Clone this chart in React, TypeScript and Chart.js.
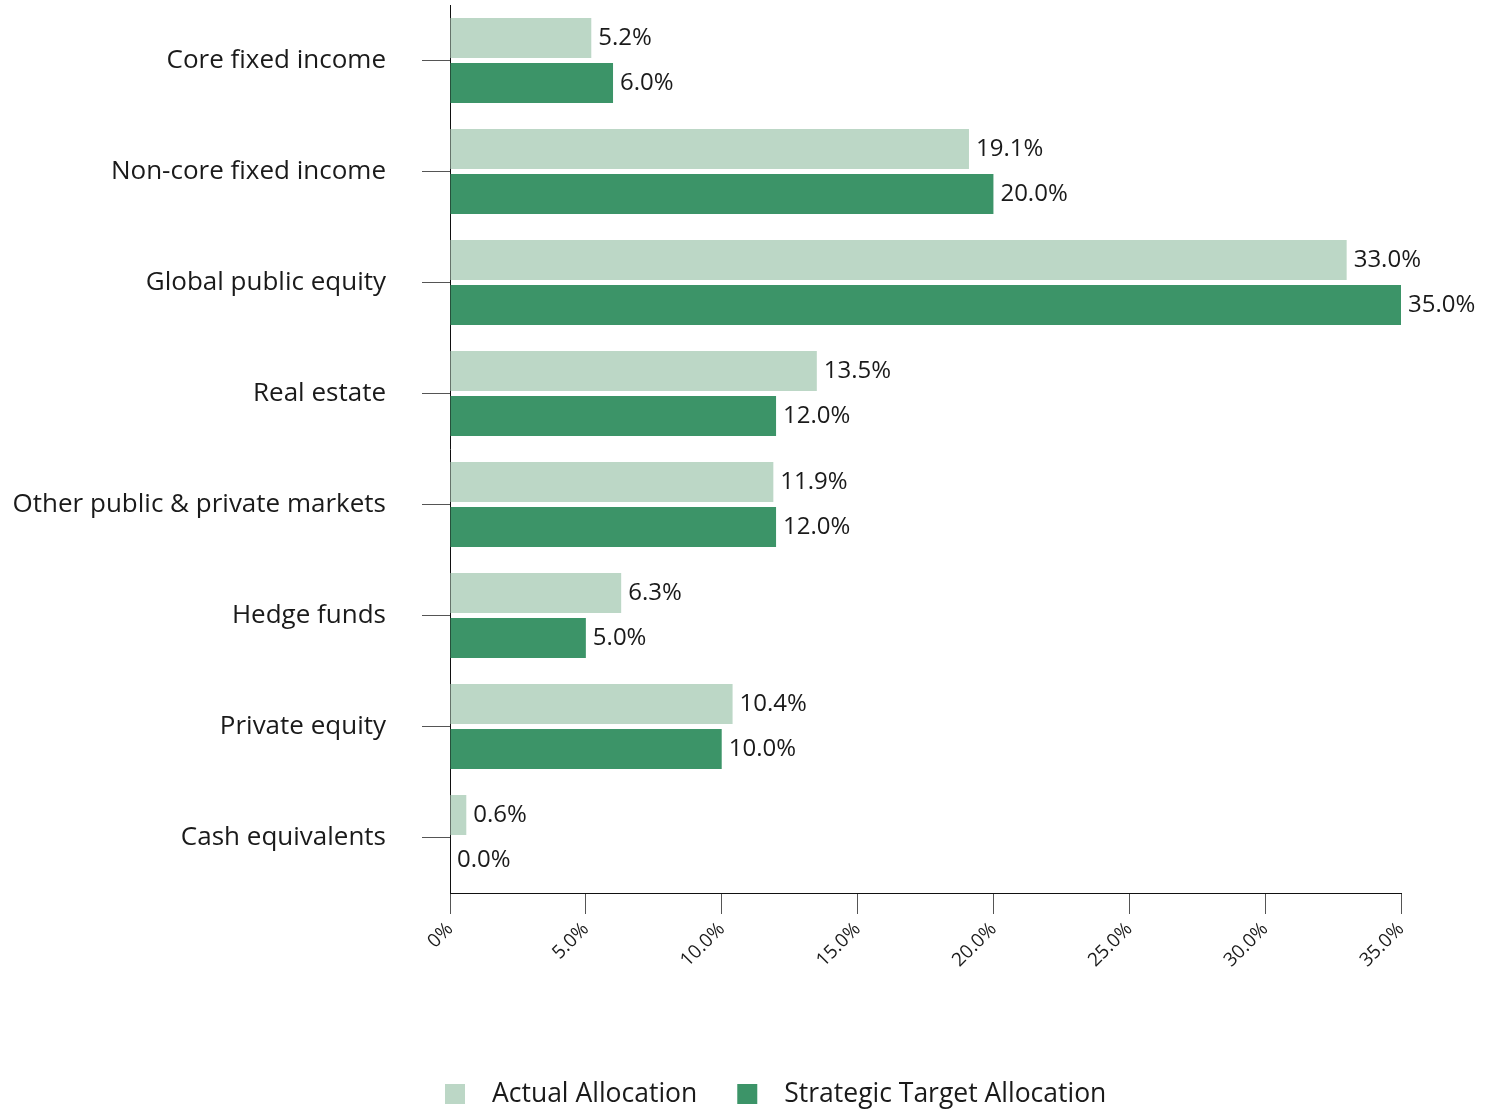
import React, { useEffect, useRef } from "react";
import { Chart, registerables } from "chart.js";

Chart.register(...registerables);

const categories = [
  "Core fixed income",
  "Non-core fixed income",
  "Global public equity",
  "Real estate",
  "Other public & private markets",
  "Hedge funds",
  "Private equity",
  "Cash equivalents",
];
const actualAllocation = [5.2, 19.1, 33.0, 13.5, 11.9, 6.3, 10.4, 0.6];
const targetAllocation = [6.0, 20.0, 35.0, 12.0, 12.0, 5.0, 10.0, 0.0];
const xTickValues = [0, 5, 10, 15, 20, 25, 30, 35];
const xTickLabels = ["0%", "5.0%", "10.0%", "15.0%", "20.0%", "25.0%", "30.0%", "35.0%"];
const seriesNames = ["Actual Allocation", "Strategic Target Allocation"];

const LIGHT = "#bcd7c6";
const DARK = "#3c9468";
const TEXT = "#1a1a1a";
const FONT = "'Open Sans', sans-serif";

const valueLabels = {
  id: "valueLabels",
  afterDatasetsDraw(chart: any) {
    const ctx = chart.ctx;
    ctx.save();
    ctx.font = `24px ${FONT}`;
    ctx.fillStyle = TEXT;
    ctx.textAlign = "left";
    ctx.textBaseline = "middle";
    chart.data.datasets.forEach((ds: any, di: number) => {
      const meta = chart.getDatasetMeta(di);
      meta.data.forEach((el: any, i: number) => {
        const v = ds.data[i];
        ctx.fillText(v.toFixed(1) + "%", el.x + 7, el.y);
      });
    });
    ctx.restore();
  },
};

const customLegend = {
  id: "customLegend",
  afterDraw(chart: any) {
    const ctx = chart.ctx;
    ctx.save();
    ctx.font = `26.5px ${FONT}`;
    ctx.textBaseline = "middle";
    ctx.textAlign = "left";
    const cy = 1094;
    let x = 445;
    chart.data.datasets.forEach((ds: any) => {
      ctx.fillStyle = ds.backgroundColor;
      ctx.fillRect(x, cy - 10, 20, 20);
      ctx.fillStyle = TEXT;
      ctx.fillText(ds.label, x + 47, cy);
      x = x + 47 + ctx.measureText(ds.label).width + 40;
    });
    ctx.restore();
  },
};

export default function App() {
  const ref = useRef<HTMLCanvasElement>(null);
  useEffect(() => {
    document.body.style.margin = "0";
    const chart = new Chart(ref.current!, {
      type: "bar",
      data: {
        labels: categories,
        datasets: [
          {
            label: seriesNames[0],
            data: actualAllocation,
            backgroundColor: LIGHT,
            categoryPercentage: 0.81,
            barPercentage: 0.89,
          },
          {
            label: seriesNames[1],
            data: targetAllocation,
            backgroundColor: DARK,
            categoryPercentage: 0.81,
            barPercentage: 0.89,
          },
        ],
      },
      options: {
        indexAxis: "y",
        animation: false,
        responsive: false,
        layout: { padding: { top: 5, right: 93, left: 0, bottom: 0 } },
        plugins: {
          legend: { display: false },
          tooltip: { enabled: false },
        },
        scales: {
          x: {
            min: 0,
            max: 35,
            afterFit: (s: any) => {
              s.height = 218;
              s.paddingLeft = 0;
              s.paddingRight = 0;
            },
            afterBuildTicks: (s: any) => {
              s.ticks = xTickValues.map((v) => ({ value: v }));
            },
            ticks: {
              autoSkip: false,
              minRotation: 45,
              maxRotation: 45,
              padding: 4,
              color: TEXT,
              font: { family: FONT, size: 19 },
              callback: (v: any) => xTickLabels[xTickValues.indexOf(Number(v))] ?? "",
            },
            grid: {
              drawOnChartArea: false,
              drawTicks: true,
              tickLength: 21,
              color: "#555",
            },
            border: { display: true, color: "#111", width: 1 },
          },
          y: {
            afterFit: (s: any) => {
              s.width = 450;
              s.paddingTop = 0;
              s.paddingBottom = 0;
            },
            ticks: {
              padding: 36,
              color: TEXT,
              font: { family: FONT, size: 26 },
            },
            grid: {
              offset: false,
              drawOnChartArea: false,
              drawTicks: true,
              tickLength: 28,
              color: "#555",
            },
            border: { display: true, color: "#111", width: 1 },
          },
        },
      },
      plugins: [valueLabels, customLegend],
    });
    return () => chart.destroy();
  }, []);
  return (
    <div style={{ width: 1494, height: 1111 }}>
      <canvas ref={ref} width={1494} height={1111} style={{ display: "block", width: 1494, height: 1111 }} />
    </div>
  );
}
